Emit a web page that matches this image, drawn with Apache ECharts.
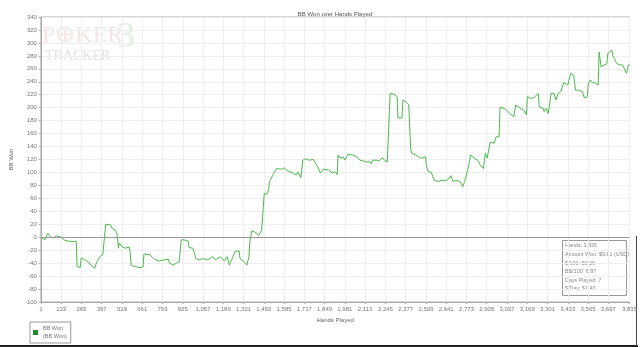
<!DOCTYPE html>
<html>
<head>
<meta charset="utf-8">
<script src="https://cdn.jsdelivr.net/npm/echarts@6/dist/echarts.min.js"></script>
<style>html,body{margin:0;padding:0;background:#fff}#c{width:640px;height:347px}</style>
</head>
<body>
<div id="c"></div>
<script>
var xTicks = [1,133,265,397,529,661,793,925,1057,1189,1321,1453,1585,1717,1849,1981,2113,2245,2377,2509,2641,2773,2905,3037,3169,3301,3433,3565,3697,3835];
var hands = [1,27,46,65,84,103,135,148,180,212,231,237,257,263,289,308,327,352,359,384,404,416,423,455,467,487,499,506,512,531,551,576,582,589,608,646,666,672,710,736,768,800,832,838,864,883,902,915,934,960,966,991,1011,1036,1055,1087,1119,1138,1170,1196,1215,1228,1247,1266,1292,1298,1324,1343,1356,1362,1375,1394,1420,1426,1439,1452,1456,1471,1484,1490,1515,1535,1567,1586,1611,1643,1662,1675,1694,1707,1726,1745,1777,1803,1822,1841,1873,1899,1918,1931,1937,1950,1969,1982,2001,2033,2059,2078,2097,2122,2142,2154,2161,2186,2206,2225,2238,2257,2269,2276,2301,2321,2327,2353,2359,2378,2397,2410,2416,2442,2461,2480,2506,2512,2525,2544,2563,2589,2608,2634,2653,2672,2685,2704,2730,2749,2761,2781,2793,2800,2825,2845,2864,2883,2896,2908,2928,2953,2966,2985,2992,3017,3036,3055,3081,3094,3113,3145,3164,3170,3196,3215,3228,3241,3247,3273,3279,3292,3305,3311,3324,3343,3356,3369,3388,3400,3407,3433,3452,3471,3484,3503,3528,3541,3560,3567,3580,3592,3612,3631,3637,3650,3662,3688,3694,3720,3726,3752,3771,3790,3816,3822,3828,3835];
var bbWon = [0,-4,6,0,-1,2,0,-4,-6,-7,-6,-45,-47,-32,-35,-38,-43,-48,-42,-30,-27,-30,20,19,13,11,3,-17,-9,-15,-17,-15,-22,-43,-45,-47,-46,-26,-27,-33,-37,-35,-34,-40,-43,-40,-38,-4,-4,-6,-16,-17,-33,-35,-33,-35,-30,-35,-30,-37,-30,-43,-33,-22,-21,-33,-38,-43,-30,-7,10,8,3,3,11,13,68,66,73,86,97,106,105,107,102,99,96,101,92,119,121,119,120,109,99,105,104,99,101,97,127,122,124,119,128,127,124,119,118,116,117,113,119,119,118,123,119,116,113,222,221,217,184,184,212,209,205,135,130,127,124,122,124,111,101,100,88,86,88,87,89,95,86,88,86,78,86,104,117,127,122,119,111,106,130,122,147,145,155,155,201,199,196,191,186,204,201,196,189,217,214,216,213,222,201,199,194,199,191,199,222,222,212,222,225,223,239,235,253,250,227,227,225,215,217,238,243,239,238,235,286,263,266,268,284,289,281,268,266,266,253,253,266,266];
var statLines = ['Hands: 3,835','Amount Won: $9.81 (USD)','$/100: $0.26','BB/100: 6.97','Days Played: 7','$/Day: $1.40'];

var chart = echarts.init(document.getElementById('c'), null, {renderer:'canvas'});
var pts = hands.map(function(h,i){return [h, bbWon[i]];});
var fmt = function(v){return Number(v).toLocaleString('en-US');};
var FF = '"Liberation Sans", Arial, sans-serif';
var statText = statLines.map(function(t,i){
  return {type:'text', left:565, top:243.5+i*8.6, style:{text:t, fill:'#8a8a8a', font:'5.4px ' + FF}};
});
chart.setOption({
  animation:false,
  backgroundColor:'#fff',
  title:{text:'BB Won over Hands Played', left:330, top:6, textAlign:'center',
    textStyle:{fontSize:6, fontWeight:'normal', color:'#555', fontFamily:FF}},
  grid:{left:30, right:10, top:17, bottom:45, show:true, borderColor:'#aaa', borderWidth:1, containLabel:false},
  legend:{left:30, top:322, orient:'vertical', icon:'rect', itemWidth:5, itemHeight:5, itemGap:2,
    borderColor:'#999', borderWidth:1, padding:[3,4,3,3],
    textStyle:{fontSize:5.5, color:'#777', lineHeight:7.5, fontFamily:FF},
    formatter:function(n){return n+'\n('+n+')';},
    data:[{name:'BB Won', itemStyle:{color:'#1f8a1f'}}]},
  xAxis:{type:'value', min:1, max:3835, name:'Hands Played', nameLocation:'middle', nameGap:13,
    nameTextStyle:{fontSize:6, color:'#666', fontFamily:FF},
    axisLine:{show:true, onZero:false, lineStyle:{color:'#aaa'}},
    axisTick:{show:true, length:2, customValues:xTicks, lineStyle:{color:'#aaa'}},
    axisLabel:{customValues:xTicks, formatter:fmt, fontSize:6, color:'#777', margin:4, fontFamily:FF},
    splitLine:{show:true, lineStyle:{color:'#eee', width:1}}},
  yAxis:{type:'value', min:-100, max:340, interval:20, name:'BB Won', nameLocation:'middle', nameGap:19,
    nameTextStyle:{fontSize:6, color:'#666', fontFamily:FF},
    axisLine:{show:true, lineStyle:{color:'#aaa'}},
    axisTick:{show:true, length:2, lineStyle:{color:'#aaa'}},
    axisLabel:{fontSize:6, color:'#777', margin:4, fontFamily:FF},
    splitLine:{show:true, lineStyle:{color:'#eee', width:1}}},
  series:[{name:'BB Won', type:'line', data:pts, showSymbol:false, symbol:'none',
    lineStyle:{color:'#4cb84c', width:1}, itemStyle:{color:'#1f8a1f'},
    markLine:{silent:true, symbol:'none', label:{show:false}, lineStyle:{color:'#999', type:'solid', width:1},
      data:[{yAxis:0}]}}],
  graphic:[
    {type:'text', left:42, top:24, style:{text:'P\u2295KER', fill:'rgba(215,160,160,0.28)', font:'24px "Liberation Serif", serif'}},
    {type:'text', left:117, top:20, style:{text:'3', fill:'rgba(130,185,130,0.22)', font:'36px "Liberation Serif", serif'}},
    {type:'text', left:45, top:49, style:{text:'TRACKER', fill:'rgba(160,160,160,0.3)', font:'14px "Liberation Serif", serif', textLetterSpacing:2}},
    {type:'rect', left:562, top:240, shape:{width:64, height:55}, style:{fill:'#fff', stroke:'#999', lineWidth:1}},
    {type:'group', children:statText},
    {type:'rect', left:0, top:345, shape:{width:638, height:2}, style:{fill:'#222'}},
    {type:'rect', left:636, top:236, shape:{width:1, height:110}, style:{fill:'#444'}}
  ]
});
</script>
</body>
</html>
